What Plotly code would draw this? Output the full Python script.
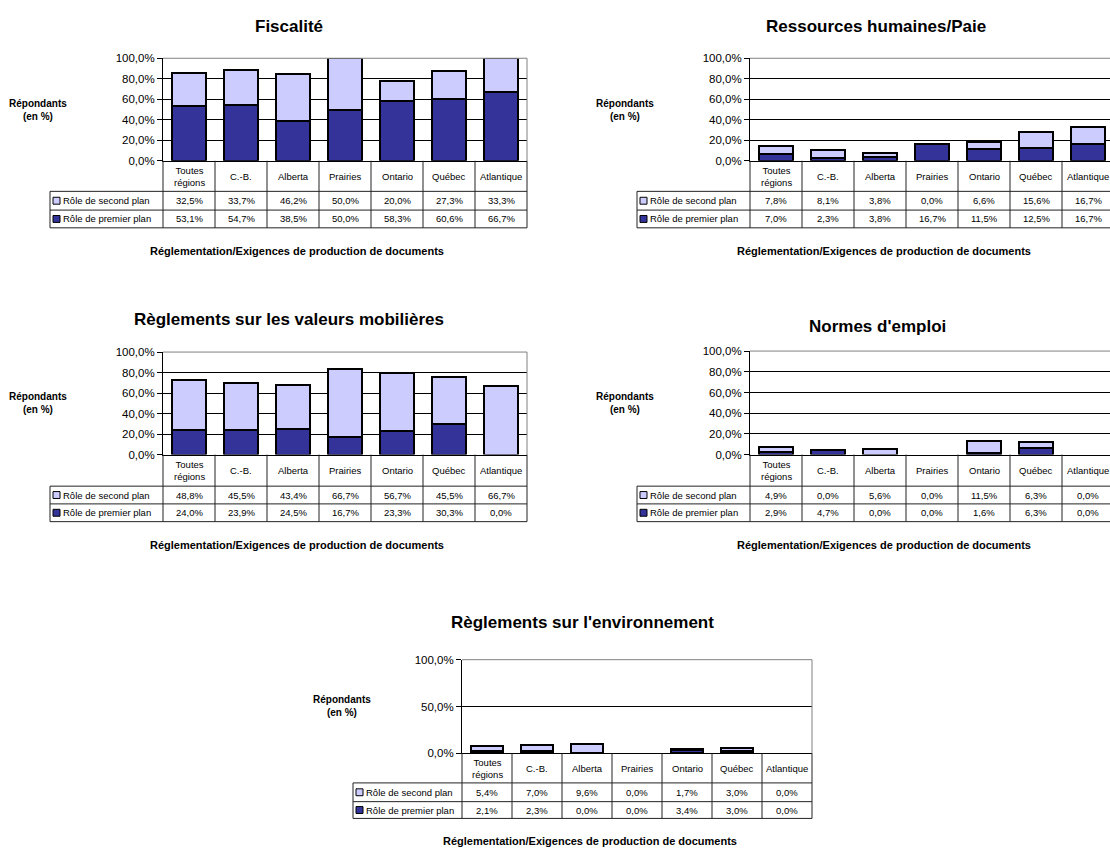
import plotly.graph_objects as go

W, H = 1110, 853

# ---------------- data ----------------
regions = ["Toutes<br>régions", "C.-B.", "Alberta", "Prairies", "Ontario", "Québec", "Atlantique"]
series_names = ["Rôle de second plan", "Rôle de premier plan"]
titles = ["Fiscalité", "Ressources humaines/Paie", "Règlements sur les valeurs mobilières",
          "Normes d'emploi", "Règlements sur l'environnement"]
y_title = "Répondants<br>(en %)"
x_title = "Réglementation/Exigences de production de documents"

fisc_second = [32.5, 33.7, 46.2, 50.0, 20.0, 27.3, 33.3]
fisc_premier = [53.1, 54.7, 38.5, 50.0, 58.3, 60.6, 66.7]
rh_second = [7.8, 8.1, 3.8, 0.0, 6.6, 15.6, 16.7]
rh_premier = [7.0, 2.3, 3.8, 16.7, 11.5, 12.5, 16.7]
vm_second = [48.8, 45.5, 43.4, 66.7, 56.7, 45.5, 66.7]
vm_premier = [24.0, 23.9, 24.5, 16.7, 23.3, 30.3, 0.0]
ne_second = [4.9, 0.0, 5.6, 0.0, 11.5, 6.3, 0.0]
ne_premier = [2.9, 4.7, 0.0, 0.0, 1.6, 6.3, 0.0]
env_second = [5.4, 7.0, 9.6, 0.0, 1.7, 3.0, 0.0]
env_premier = [2.1, 2.3, 0.0, 0.0, 3.4, 3.0, 0.0]

seconds = [fisc_second, rh_second, vm_second, ne_second, env_second]
premiers = [fisc_premier, rh_premier, vm_premier, ne_premier, env_premier]

# ---------------- layout (pixels) ----------------
panels = [
    dict(left=163, right=527, col=52, top=53, bot=157, tl=50, title=(289, 21), ylab=(38, 105), xt=(297, 248), dtick=20, rows=(31, 50, 68)),
    dict(left=750, right=1110, col=52, top=53, bot=157, tl=637, title=(876, 21), ylab=(625, 105), xt=(884, 248), dtick=20, rows=(31, 50, 68)),
    dict(left=163, right=527, col=52, top=351, bot=455, tl=50, title=(289, 318), ylab=(38, 403), xt=(297, 547), dtick=20, rows=(32, 50, 68)),
    dict(left=750, right=1110, col=52, top=350, bot=455, tl=637, title=(877, 325), ylab=(625, 403), xt=(884, 547), dtick=20, rows=(32, 50, 68)),
    dict(left=462, right=812, col=50, top=663, bot=758, tl=353, title=(582, 625), ylab=(342, 710), xt=(590, 847), dtick=50, rows=(30, 49, 66)),
]

DARK = "#333399"
LIGHT = "#CCCCFF"
FONT = "Liberation Sans, Arial, Helvetica, sans-serif"
LINE = "#222222"


def px(x):
    return x / W


def py(y):
    return 1 - y / H


def fmt(v):
    return f"{v:.1f}".replace(".", ",") + "%"


fig = go.Figure()
shapes = []
annotations = []
layout_axes = {}

for n, p in enumerate(panels, start=1):
    xa = "x" if n == 1 else f"x{n}"
    ya = "y" if n == 1 else f"y{n}"
    xkey = "xaxis" if n == 1 else f"xaxis{n}"
    ykey = "yaxis" if n == 1 else f"yaxis{n}"

    for vals, col, name in ((premiers[n - 1], DARK, series_names[1]), (seconds[n - 1], LIGHT, series_names[0])):
        fig.add_trace(go.Bar(x=regions, y=vals, name=name, xaxis=xa, yaxis=ya,
                             marker=dict(color=col, line=dict(color="black",
                                                              width=[0 if v == 0 else 2 for v in vals])),
                             showlegend=False, hoverinfo="skip"))

    ncols = (p["right"] - p["left"]) / p["col"]
    layout_axes[xkey] = dict(domain=[px(p["left"]), px(p["right"])], range=[-0.5, -0.5 + ncols],
                             anchor=ya, showticklabels=False, ticks="", showgrid=False, zeroline=False,
                             showline=True, linecolor="black", linewidth=1, fixedrange=True,
                             type="category")
    layout_axes[ykey] = dict(domain=[py(p["bot"]), py(p["top"])], range=[0, 100], anchor=xa,
                             tick0=0, dtick=p["dtick"], tickformat=".1f", ticksuffix="%",
                             showgrid=True, gridcolor="black", gridwidth=1, zeroline=False,
                             showline=True, linecolor="black", linewidth=1,
                             ticks="outside", ticklen=5, tickcolor="black",
                             tickfont=dict(family=FONT, size=11.5, color="black"), fixedrange=True)

    # grey plot border (top / right)
    shapes.append(dict(type="line", xref="paper", yref="paper", x0=px(p["left"]), x1=px(p["right"]),
                       y0=py(p["top"]), y1=py(p["top"]), line=dict(color="#808080", width=1)))
    if p["right"] < W:
        shapes.append(dict(type="line", xref="paper", yref="paper", x0=px(p["right"]), x1=px(p["right"]),
                           y0=py(p["top"]), y1=py(p["bot"]), line=dict(color="#808080", width=1)))

    # table
    r0 = p["bot"]
    r1, r2, r3 = (p["bot"] + d for d in p["rows"])
    for j in range(0, 8):
        xx = p["left"] + j * p["col"]
        if xx <= W - 1:
            shapes.append(dict(type="line", xref="paper", yref="paper", x0=px(xx), x1=px(xx),
                               y0=py(r0), y1=py(r3), line=dict(color=LINE, width=1)))
    shapes.append(dict(type="line", xref="paper", yref="paper", x0=px(p["tl"]), x1=px(p["tl"]),
                       y0=py(r1), y1=py(r3), line=dict(color=LINE, width=1)))
    for rr in (r1, r2, r3):
        shapes.append(dict(type="line", xref="paper", yref="paper", x0=px(p["tl"]), x1=px(p["right"]),
                           y0=py(rr), y1=py(rr), line=dict(color=LINE, width=1)))

    # category labels
    for i, reg in enumerate(regions):
        annotations.append(dict(x=reg, y=py((r0 + r1) / 2), xref=xa, yref="paper", text=reg,
                                showarrow=False, xanchor="center", yanchor="middle",
                                font=dict(family=FONT, size=9.5, color="black")))
    # rows
    for k, (vals, col, name, ra, rb) in enumerate([(seconds[n - 1], LIGHT, series_names[0], r1, r2),
                                                    (premiers[n - 1], DARK, series_names[1], r2, r3)]):
        yc = (ra + rb) / 2
        shapes.append(dict(type="rect", xref="paper", yref="paper", x0=px(p["tl"] + 3), x1=px(p["tl"] + 10),
                           y0=py(yc + 3.5), y1=py(yc - 3.5), fillcolor=col, line=dict(color="black", width=1)))
        annotations.append(dict(x=px(p["tl"] + 11), y=py(yc), xref="paper", yref="paper", text=name,
                                showarrow=False, xanchor="left", yanchor="middle",
                                font=dict(family=FONT, size=9.5, color="black")))
        for i, v in enumerate(vals):
            annotations.append(dict(x=regions[i], y=py(yc), xref=xa, yref="paper", text=fmt(v),
                                    showarrow=False, xanchor="center", yanchor="middle",
                                    font=dict(family=FONT, size=9.5, color="black")))

    # titles
    annotations.append(dict(x=px(p["title"][0]), y=py(p["title"][1]), xref="paper", yref="paper",
                            text=f"<b>{titles[n - 1]}</b>", showarrow=False, xanchor="center", yanchor="middle",
                            font=dict(family=FONT, size=17, color="black")))
    annotations.append(dict(x=px(p["ylab"][0]), y=py(p["ylab"][1]), xref="paper", yref="paper",
                            text=f"<b>{y_title}</b>", showarrow=False, xanchor="center", yanchor="middle",
                            align="center", font=dict(family=FONT, size=10, color="black")))
    annotations.append(dict(x=px(p["xt"][0]), y=py(p["xt"][1]), xref="paper", yref="paper",
                            text=f"<b>{x_title}</b>", showarrow=False, xanchor="center", yanchor="middle",
                            font=dict(family=FONT, size=11, color="black")))

fig.update_layout(
    width=W, height=H, margin=dict(l=0, r=0, t=0, b=0),
    paper_bgcolor="white", plot_bgcolor="white",
    barmode="stack", bargap=0.35, separators=", ",
    font=dict(family=FONT, color="black"),
    shapes=shapes, annotations=annotations, showlegend=False,
    **layout_axes,
)

fig.write_html("out.html", config={"displayModeBar": False},
               post_script="document.body.style.margin='0';document.body.style.overflow='hidden';")
